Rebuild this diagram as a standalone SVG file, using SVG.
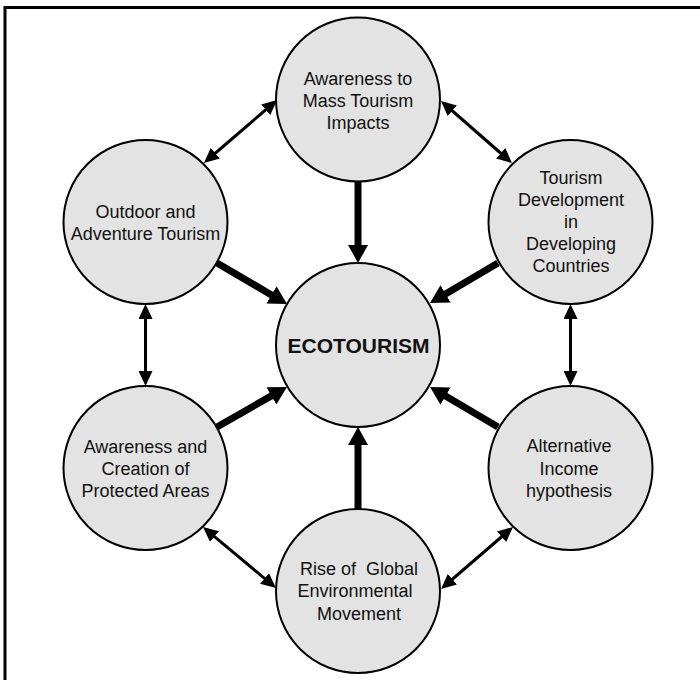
<svg xmlns="http://www.w3.org/2000/svg" width="700" height="680" viewBox="0 0 700 680">
<style>
.node circle{fill:#e3e3e3;stroke:#000;stroke-width:2}
.node text{font-family:"Liberation Sans",Arial,sans-serif;font-size:18px;fill:#111;text-anchor:middle}
.thick{stroke:#000;stroke-width:7;fill:none;marker-end:url(#hThick)}
.thin{stroke:#000;stroke-width:3;fill:none;marker-start:url(#hThin);marker-end:url(#hThin)}
.frame{stroke:#000;stroke-width:3;fill:none}
</style>
<defs>
<marker id="hThick" viewBox="0 0 18 20" markerWidth="18" markerHeight="20" refX="2" refY="10" orient="auto" markerUnits="userSpaceOnUse"><path d="M0,0 L18,10 L0,20 z" fill="#000"/></marker>
<marker id="hThin" viewBox="0 0 15 14" markerWidth="15" markerHeight="14" refX="2" refY="7" orient="auto-start-reverse" markerUnits="userSpaceOnUse"><path d="M0,0 L15,7 L0,14 z" fill="#000"/></marker>
</defs>
<rect x="0" y="0" width="700" height="680" fill="#fff"/>
<path class="frame" d="M5,680 L5,7.5 L700,7.5"/>

<g id="node-top" class="node">
<circle cx="358" cy="99.5" r="82"/>
<text x="358" y="85">Awareness to</text>
<text x="358" y="107">Mass Tourism</text>
<text x="358" y="129">Impacts</text>
</g>
<g id="node-outdoor" class="node">
<circle cx="145.5" cy="222" r="82"/>
<text x="145.5" y="218">Outdoor and</text>
<text x="145.5" y="240">Adventure Tourism</text>
</g>
<g id="node-tourism-dev" class="node">
<circle cx="570.5" cy="222" r="82"/>
<text x="571" y="184">Tourism</text>
<text x="571" y="206">Development</text>
<text x="571" y="228">in</text>
<text x="571" y="250">Developing</text>
<text x="571" y="272">Countries</text>
</g>
<g id="node-ecotourism" class="node">
<circle cx="358" cy="345" r="82"/>
<text x="358.5" y="353" style="font-weight:bold;font-size:21px">ECOTOURISM</text>
</g>
<g id="node-protected" class="node">
<circle cx="145.5" cy="468" r="82"/>
<text x="145.5" y="453">Awareness and</text>
<text x="145.5" y="475">Creation of</text>
<text x="145.5" y="497">Protected Areas</text>
</g>
<g id="node-alternative" class="node">
<circle cx="570.5" cy="468" r="82"/>
<text x="569" y="452">Alternative</text>
<text x="569" y="475">Income</text>
<text x="569" y="497">hypothesis</text>
</g>
<g id="node-rise" class="node">
<circle cx="358" cy="591" r="82"/>
<text x="359" y="575" style="white-space:pre">Rise of  Global</text>
<text x="355" y="597">Environmental</text>
<text x="359" y="620">Movement</text>
</g>

<g id="connectors">
<line class="thick" x1="358" y1="182" x2="358" y2="247"/>
<line class="thick" x1="358" y1="509" x2="358" y2="443"/>
<line class="thick" x1="217" y1="263" x2="273.2" y2="295.9"/>
<line class="thick" x1="217" y1="427" x2="273.1" y2="394.9"/>
<line class="thick" x1="498" y1="263" x2="443.8" y2="294.9"/>
<line class="thick" x1="498" y1="427" x2="443.8" y2="395.1"/>
<line class="thin" x1="213.8" y1="154.5" x2="267.2" y2="108.5"/>
<line class="thin" x1="450.8" y1="109.5" x2="502.2" y2="154.5"/>
<line class="thin" x1="145.5" y1="317" x2="145.5" y2="373"/>
<line class="thin" x1="570.5" y1="317" x2="570.5" y2="373"/>
<line class="thin" x1="213" y1="535.3" x2="266" y2="579.7"/>
<line class="thin" x1="503.1" y1="535.5" x2="450.9" y2="580.5"/>
</g>
</svg>
